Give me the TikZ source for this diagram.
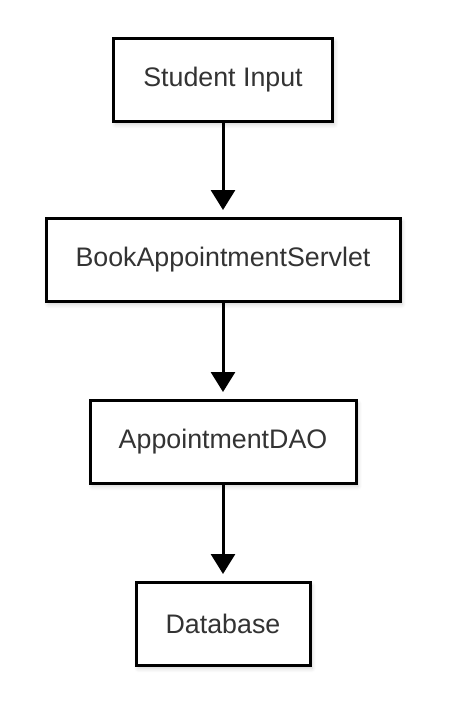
\documentclass[tikz,border=0pt]{standalone}
\usepackage{fontspec}
\setmainfont{Liberation Sans}
\usetikzlibrary{arrows.meta,shadows.blur}
\definecolor{txt}{HTML}{333333}
\tikzset{
  box/.style={draw=black, line width=3pt, fill=white, minimum height=83pt,
    text=txt, font=\fontsize{26.8}{31}\selectfont, inner sep=0pt,
    blur shadow={shadow xshift=2pt, shadow yshift=-3pt, shadow blur steps=6, shadow opacity=18, shadow blur radius=4pt}},
  conn/.style={line width=3pt, -{Triangle[width=24pt,length=20pt]}, shorten >=7pt}
}
\begin{document}
\begin{tikzpicture}[x=1pt,y=1pt]
\useasboundingbox (0,0) rectangle (456,-704);
\node[box, minimum width=219pt] (a) at (223,-80) {Student Input};
\node[box, minimum width=354pt] (b) at (223,-260) {BookAppointmentServlet};
\node[box, minimum width=266pt] (c) at (223,-442) {AppointmentDAO};
\node[box, minimum width=174pt] (d) at (223,-624) {Database};
\draw[conn] (a.south) -- (b.north);
\draw[conn] (b.south) -- (c.north);
\draw[conn] (c.south) -- (d.north);
\end{tikzpicture}
\end{document}
